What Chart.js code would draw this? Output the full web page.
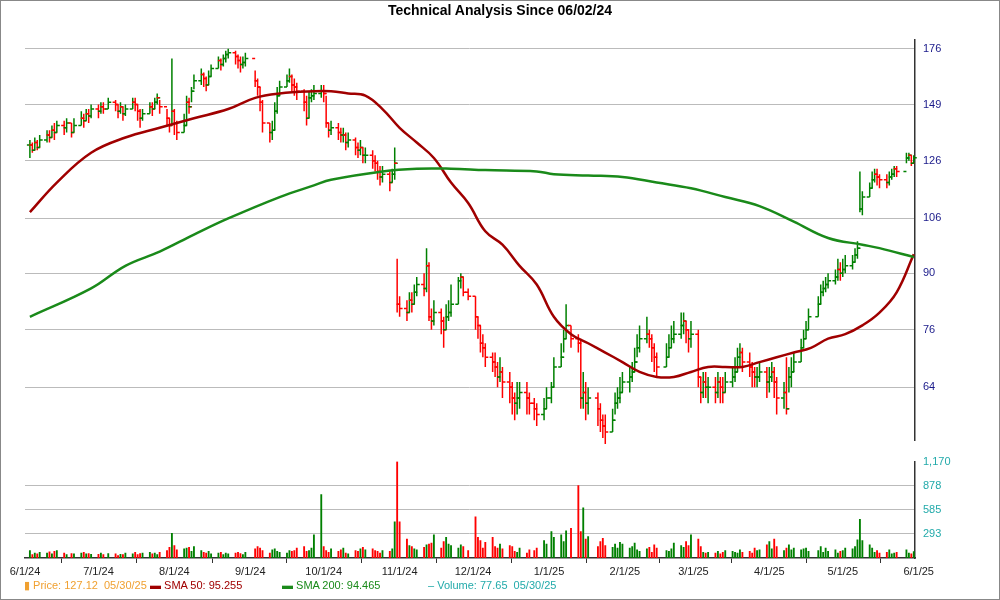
<!DOCTYPE html>
<html>
<head>
<meta charset="utf-8">
<script src="https://cdn.jsdelivr.net/npm/chart.js@4"></script>
<style>
  body { margin: 0; background: #fff; font-family: Arial, "Liberation Sans", sans-serif; }
  #wrap { position: relative; width: 1000px; height: 600px; overflow: hidden; }
  #title { position: absolute; top: 2px; left: 0; width: 1000px; text-align: center; font-weight: bold; font-size: 14px; color: #000; }
  #cPrice { position: absolute; left: 0; top: 0; }
  #cVol { position: absolute; left: 0; top: 447px; }
  #legend { position: absolute; top: 579px; left: 0; font-size: 11px; white-space: nowrap; }
  #legend span { position: absolute; }
  #border { position: absolute; left: 0; top: 0; width: 998px; height: 598px; border: 1px solid #888; pointer-events: none; }
</style>
</head>
<body>
<div id="wrap">
  <canvas id="cPrice" width="1000" height="455"></canvas>
  <canvas id="cVol" width="1000" height="153"></canvas>
  <div id="title">Technical Analysis Since 06/02/24</div>
  <div id="legend">
    <span style="left:24px;color:#f0a030">&#9646; Price: 127.12&nbsp; 05/30/25</span>
    <span style="left:150px;color:#a00000"><b>&#9644;</b> SMA 50: 95.255</span>
    <span style="left:282px;color:#1a8a1a"><b>&#9644;</b> SMA 200: 94.465</span>
    <span style="left:428px;color:#22aaaa">&ndash; Volume: 77.65&nbsp; 05/30/25</span>
  </div>
  <div id="border"></div>
</div>
<script>
// ---------- DATA ----------
const holidays = ['2024-06-19','2024-07-04','2024-09-02','2024-11-28','2024-12-25','2025-01-01','2025-01-09','2025-01-20','2025-02-17','2025-04-18','2025-05-26'];

const closes = [
  132,130,133,131,134,136,135,138,137,140,139,141,137,140,143,142,145,144,147,
  146,148,147,150,149,146,148,145,147,150,149,146,143,145,148,147,150,152,148,143,140,146,
  141,137,140,150,148,155,160,163,161,158,162,166,170,168,171,173,174,172,170,168,169,171,
  160,157,150,141,137,138,146,153,157,160,162,158,157,155,150,143,152,153,154,155,
  154,141,138,139,137,136,136,133,134,131,130,131,128,128,126,125,122,120,121,118,121,125,82,
  81,80,83,82,85,87,86,92,79,78,80,78,76,79,80,82,88,89,85,84,
  79,77,73,72,70,69,68,66,67,65,64,62,61,62,63,62,61,60,59,60,62,
  64,68,70,74,77,74,73,62,63,61,62,60,58,57,56,58,61,62,63,65,
  66,67,69,72,74,75,74,72,70,68,70,72,74,75,77,78,76,74,75,
  66,63,65,64,64,63,65,64,63,65,66,67,70,71,69,68,67,66,66,67,65,
  66,67,65,62,63,60,66,67,69,72,74,76,79,82,85,86,87,88,89,91,90,
  91,92,93,95,97,109,113,116,119,121,120,119,118,120,121,123,122,127,128,125,127.12
];
const highs = [
  134,133,135,134,136,138,138,140,141,142,142,143,141,143,146,145,147,147,149,
  149,150,150,152,151,149,150,148,149,152,152,149,147,147,150,150,152,154,151,147,143,171,
  147,142,145,153,152,157,163,166,164,162,165,168,172,171,173,175,176,175,173,172,172,174,
  165,161,157,151,141,142,150,157,160,163,166,163,161,159,156,153,155,156,158,158,
  158,153,141,142,141,139,139,137,137,135,133,134,131,131,130,128,126,124,124,122,123,131,94,
  84,83,85,85,87,89,90,97,93,81,83,81,79,82,83,87,89,90,89,86,
  84,79,77,75,73,71,71,69,70,68,67,65,63,65,65,65,63,62,61,62,64,
  65,70,73,76,82,77,75,74,67,65,64,63,61,59,59,60,63,64,66,67,
  68,69,72,75,77,79,76,75,73,71,73,75,77,78,80,80,78,76,78,
  76,66,67,67,66,66,67,66,66,67,68,70,72,73,72,71,69,68,68,69,68,
  68,69,68,66,65,70,68,70,71,74,76,78,81,84,87,88,89,90,91,94,93,
  94,95,95,97,99,122,115,118,122,123,123,121,121,122,123,124,124,129,129,128,128
];
const lows = [
  127,129,130,130,131,133,133,135,134,137,136,137,135,137,140,139,142,141,143,
  143,145,145,147,146,143,145,142,144,147,146,142,139,142,145,144,147,149,145,140,137,140,
  136,134,137,140,145,150,156,158,157,155,158,162,166,165,167,169,171,168,166,164,166,167,
  157,153,146,137,133,134,138,145,153,157,159,155,153,151,146,140,143,150,151,152,
  150,139,135,136,134,133,133,130,131,128,127,128,125,125,123,122,119,117,118,115,118,119,80,
  79,78,80,80,82,84,84,85,78,76,77,75,72,76,78,79,82,86,84,83,
  76,74,71,70,68,67,66,64,65,62,61,59,58,59,60,59,59,58,57,58,60,
  61,64,68,71,74,72,71,60,60,58,59,57,56,55,54,56,59,60,61,63,
  63,65,67,70,71,73,72,69,67,66,68,70,72,73,74,75,73,71,72,
  64,61,62,62,61,61,62,61,61,63,64,65,67,68,67,66,64,64,64,65,62,
  63,65,62,59,60,59,63,64,67,69,72,74,76,79,82,84,85,86,87,88,88,
  89,90,91,93,94,108,107,113,116,118,117,116,116,117,119,120,120,125,126,124,125
];
const volumes = [
  90,40,60,50,70,60,75,50,80,90,60,40,55,50,60,70,50,55,45,
  45,60,40,55,50,30,45,40,60,50,70,40,55,60,70,50,60,40,70,90,130,300,
  150,100,110,120,130,80,140,90,70,60,80,50,60,70,40,60,50,60,70,55,40,70,
  110,140,120,90,60,100,110,80,70,60,90,80,90,120,140,80,90,120,280,770,
  140,90,70,110,80,100,120,60,50,90,80,110,130,100,110,90,80,60,90,80,110,440,1170,
  440,230,150,140,110,100,130,160,170,180,280,120,200,250,170,150,120,160,140,90,
  500,250,210,120,190,250,140,120,170,110,150,140,80,70,120,60,100,90,120,210,170,
  320,250,280,200,330,360,880,320,610,230,260,140,200,240,150,130,170,120,190,170,
  120,140,180,100,80,110,130,70,160,120,90,80,110,180,150,130,200,150,280,
  230,140,70,60,70,60,80,50,70,90,80,70,60,100,70,80,60,120,90,100,160,
  200,110,230,140,90,120,160,100,120,100,110,120,80,90,140,70,120,80,100,60,80,
  90,120,110,140,220,470,210,160,120,70,90,60,70,100,50,60,70,100,60,50,77.65
];

const sma50Dates = ['2024-06-03','2024-06-14','2024-06-28','2024-07-12','2024-07-26','2024-08-09','2024-08-23','2024-09-03','2024-09-13','2024-09-27','2024-10-04','2024-10-11','2024-10-18','2024-10-25','2024-11-01','2024-11-08','2024-11-15','2024-11-22','2024-11-29','2024-12-06','2024-12-13','2024-12-20','2024-12-27','2025-01-03','2025-01-10','2025-01-17','2025-01-24','2025-01-31','2025-02-07','2025-02-14','2025-02-21','2025-02-28','2025-03-07','2025-03-14','2025-03-21','2025-03-28','2025-04-04','2025-04-11','2025-04-18','2025-04-25','2025-05-02','2025-05-09','2025-05-16','2025-05-23','2025-05-30'];
const sma50Values = [108,118,129,135,139,143,147,152,154,155,155,154,153,147,139,133,127,118,111,102,98,92,87,79,75,73,71,69,67,66,66,67,68,68,68,69,70,71,72,74,75,77,80,85,95.255];

const sma200Dates = ['2024-06-03','2024-06-28','2024-07-12','2024-07-26','2024-08-09','2024-08-23','2024-09-13','2024-09-27','2024-10-04','2024-10-25','2024-11-08','2024-11-22','2024-12-06','2024-12-27','2025-01-03','2025-01-17','2025-01-31','2025-02-14','2025-02-28','2025-03-14','2025-03-28','2025-04-11','2025-04-25','2025-05-09','2025-05-16','2025-05-30'];
const sma200Values = [79,86,92,96,101,106,113,117,119,122,123,123,122.5,122,121,120.5,120,118,116,113,110,105,100,98,97,94.465];

const priceTicks = [64,76,90,106,126,149,176];
const volTicks = [293,585,878,1170];
const monthTicks = ['2024-06-01','2024-07-01','2024-08-01','2024-09-01','2024-10-01','2024-11-01','2024-12-01','2025-01-01','2025-02-01','2025-03-01','2025-04-01','2025-05-01','2025-06-01'];

// ---------- HELPERS ----------
const DAY0 = Date.UTC(2024, 5, 1);
function dayOf(s) {
  const [y, m, d] = s.split('-').map(Number);
  return (Date.UTC(y, m - 1, d) - DAY0) / 864e5;
}
function tradingDays() {
  const out = [];
  const hol = new Set(holidays);
  for (let t = Date.UTC(2024, 5, 3); t <= Date.UTC(2025, 4, 30); t += 864e5) {
    const dt = new Date(t);
    const wd = dt.getUTCDay();
    const iso = dt.toISOString().slice(0, 10);
    if (wd === 0 || wd === 6 || hol.has(iso)) continue;
    out.push((t - DAY0) / 864e5);
  }
  return out;
}
const days = tradingDays();
const n = Math.min(days.length, closes.length, highs.length, lows.length, volumes.length);
const UP = '#008000', DOWN = '#ff0000';
const colors = [];
for (let i = 0; i < n; i++) colors.push(i === 0 || closes[i] >= closes[i - 1] ? UP : DOWN);

const X_MIN = 0, X_MAX = 363.5;
const GRID = { color: '#bbbbbb', borderDash: [3, 2], lineWidth: 1 };

// ---------- PRICE CHART ----------
const ohlcPlugin = {
  id: 'ohlc',
  beforeDatasetsDraw(chart) {
    const { ctx, scales: { x, y } } = chart;
    ctx.save();
    ctx.lineWidth = 1.5;
    for (let i = 0; i < n; i++) {
      const px = x.getPixelForValue(days[i]);
      const open = i === 0 ? closes[0] : closes[i - 1];
      ctx.strokeStyle = colors[i];
      ctx.beginPath();
      ctx.moveTo(px, y.getPixelForValue(highs[i]));
      ctx.lineTo(px, y.getPixelForValue(lows[i]));
      const po = y.getPixelForValue(open), pc = y.getPixelForValue(closes[i]);
      ctx.moveTo(px - 3, po); ctx.lineTo(px, po);
      ctx.moveTo(px, pc); ctx.lineTo(px + 3, pc);
      ctx.stroke();
    }
    ctx.restore();
  }
};

new Chart(document.getElementById('cPrice'), {
  type: 'line',
  data: {
    datasets: [
      { label: 'SMA 200', data: sma200Dates.map((d, i) => ({ x: dayOf(d), y: sma200Values[i] })),
        borderColor: '#1a8a1a', borderWidth: 2.5, pointRadius: 0, tension: 0.4 },
      { label: 'SMA 50', data: sma50Dates.map((d, i) => ({ x: dayOf(d), y: sma50Values[i] })),
        borderColor: '#a00000', borderWidth: 2.5, pointRadius: 0, tension: 0.4 }
    ]
  },
  options: {
    responsive: false, animation: false,
    layout: { padding: { left: 25, top: 40, bottom: 5, right: 0 } },
    plugins: { legend: { display: false }, tooltip: { enabled: false } },
    scales: {
      x: { type: 'linear', min: X_MIN, max: X_MAX, display: false },
      y: {
        type: 'logarithmic', position: 'right', min: 54.6, max: 180.7,
        afterBuildTicks: s => { s.ticks = priceTicks.map(v => ({ value: v })); },
        afterFit: s => { s.width = 85; },
        grid: { ...GRID, drawTicks: false },
        border: { display: true, color: '#333', width: 1.5 },
        ticks: { color: '#1a1a8a', font: { size: 11 }, padding: 8, callback: v => String(v) }
      }
    }
  },
  plugins: [ohlcPlugin]
});

// ---------- VOLUME CHART ----------
new Chart(document.getElementById('cVol'), {
  type: 'bar',
  data: {
    datasets: [{
      data: days.slice(0, n).map((d, i) => ({ x: d, y: volumes[i] })),
      backgroundColor: colors, barThickness: 1.2
    }]
  },
  options: {
    responsive: false, animation: false,
    layout: { padding: { left: 25, top: 0, bottom: 22, right: 0 } },
    plugins: { legend: { display: false }, tooltip: { enabled: false } },
    scales: {
      x: {
        type: 'linear', min: X_MIN, max: X_MAX, offset: false,
        afterBuildTicks: s => { s.ticks = monthTicks.map(d => ({ value: dayOf(d) })); },
        afterFit: s => { s.height = 20; },
        grid: { display: true, drawOnChartArea: false, drawTicks: true, tickLength: 5, color: '#333' },
        border: { display: true, color: '#333', width: 1.5 },
        ticks: {
          color: '#222', font: { size: 11 }, maxRotation: 0, autoSkip: false, padding: 2,
          callback: v => { const dt = new Date(DAY0 + v * 864e5); return (dt.getUTCMonth() + 1) + '/1/' + String(dt.getUTCFullYear()).slice(2); }
        }
      },
      y: {
        position: 'right', min: 0, max: 1170,
        afterBuildTicks: s => { s.ticks = volTicks.map(v => ({ value: v })); },
        afterFit: s => { s.width = 85; },
        grid: { ...GRID, drawTicks: false, color: c => c.tick && c.tick.value === 1170 ? 'rgba(0,0,0,0)' : '#bbbbbb' },
        border: { display: true, color: '#333', width: 1.5 },
        ticks: { color: '#22aaaa', font: { size: 11 }, padding: 8, callback: v => v.toLocaleString('en-US') }
      }
    }
  }
});
</script>
</body>
</html>
